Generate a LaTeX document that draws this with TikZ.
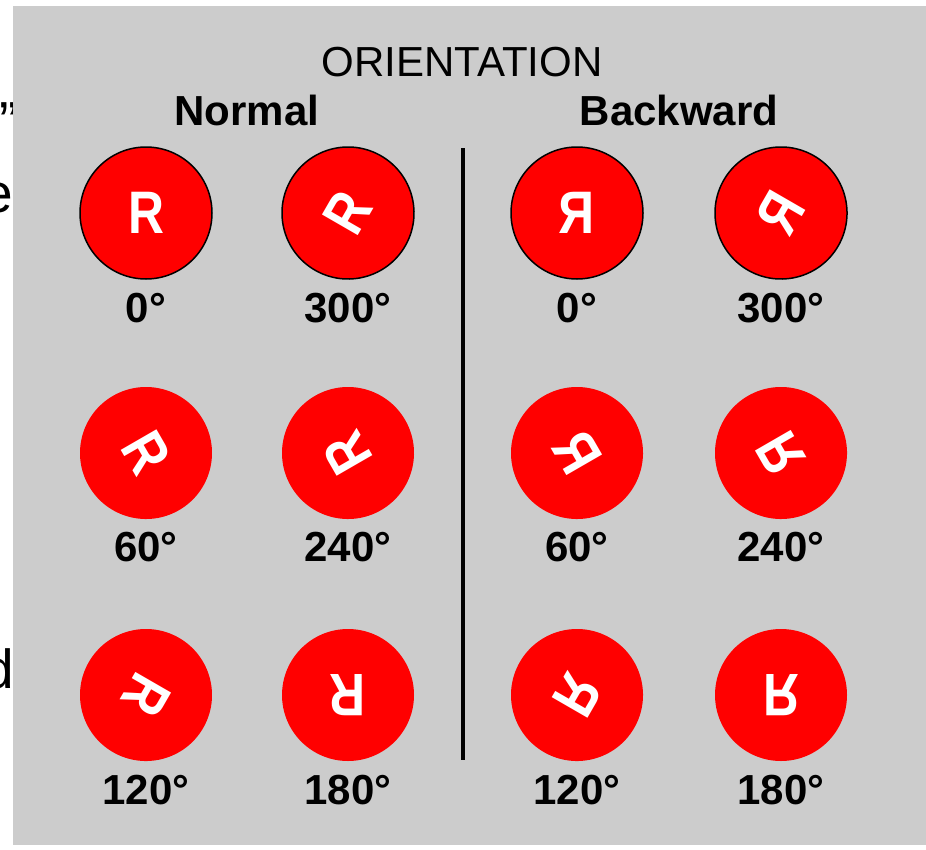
\documentclass[tikz,border=0pt]{standalone}
\usepackage{fontspec}
\setmainfont{Liberation Sans}
\usetikzlibrary{positioning}

\definecolor{panelgrey}{HTML}{CCCCCC}
\newcommand{\normR}{\scalebox{0.83}[1]{R}}
\newcommand{\backR}{\scalebox{-0.83}[1]{R}}

\begin{document}
\begin{tikzpicture}[
    x=1pt, y=-1pt,
    disc/.style={circle, fill=red, minimum size=132pt, inner sep=0pt, text=white, font=\fontsize{60}{60}\selectfont\bfseries},
    rimdisc/.style={disc, draw=black, line width=1.5pt},
    deg/.style={inner sep=0pt, font=\fontsize{42}{42}\selectfont\bfseries},
    heading/.style={inner sep=0pt, font=\fontsize{42}{42}\selectfont\bfseries},
    title/.style={inner sep=0pt, font=\fontsize{42}{42}\selectfont},
    divider/.style={line width=4pt},
    cutoff/.style={anchor=base east, inner sep=0pt, font=\fontsize{55}{55}\selectfont}
]
\useasboundingbox (0,0) rectangle (926,849);

% Text cut off at the left edge
\node (frag1) [cutoff] at (18,140) {”};
\node (frag2) [cutoff] at (13,212) {e};
\node (frag3) [cutoff] at (14,688) {d};

% Panel
\fill [panelgrey] (13,6) rectangle (926,845);

% Headings
\node (title) [title] at (462,62) {ORIENTATION};
\node (normal) [heading] at (247,110) {Normal};
\node (backward) [heading] at (679,110) {Backward};

% Normal discs
\node (n0) [rimdisc] at (146,213) {\normR};
\node (n300) [rimdisc, rotate=-300] at (348,213) {\normR};
\node (n60) [disc, rotate=-60] at (146,453) {\normR};
\node (n240) [disc, rotate=-240] at (348,453) {\normR};
\node (n120) [disc, rotate=-120] at (146,695) {\normR};
\node (n180) [disc, rotate=-180] at (348,695) {\normR};

% Backward discs
\node (b0) [rimdisc] at (577,213) {\backR};
\node (b300) [rimdisc, rotate=-300] at (781,213) {\backR};
\node (b60) [disc, rotate=-60] at (577,453) {\backR};
\node (b240) [disc, rotate=-240] at (781,453) {\backR};
\node (b120) [disc, rotate=-120] at (577,695) {\backR};
\node (b180) [disc, rotate=-180] at (781,695) {\backR};

% Angle labels
\node (ln0) [deg, below=80pt of n0.center] {0°};
\node (ln300) [deg, below=80pt of n300.center] {300°};
\node (ln60) [deg, below=79pt of n60.center] {60°};
\node (ln240) [deg, below=79pt of n240.center] {240°};
\node (ln120) [deg, below=80pt of n120.center] {120°};
\node (ln180) [deg, below=80pt of n180.center] {180°};
\node (lb0) [deg, below=80pt of b0.center] {0°};
\node (lb300) [deg, below=80pt of b300.center] {300°};
\node (lb60) [deg, below=79pt of b60.center] {60°};
\node (lb240) [deg, below=79pt of b240.center] {240°};
\node (lb120) [deg, below=80pt of b120.center] {120°};
\node (lb180) [deg, below=80pt of b180.center] {180°};

% Divider
\coordinate (divtop) at (463,148);
\coordinate (divbot) at (463,760);
\draw [divider] (divtop) -- (divbot);

\end{tikzpicture}
\end{document}
